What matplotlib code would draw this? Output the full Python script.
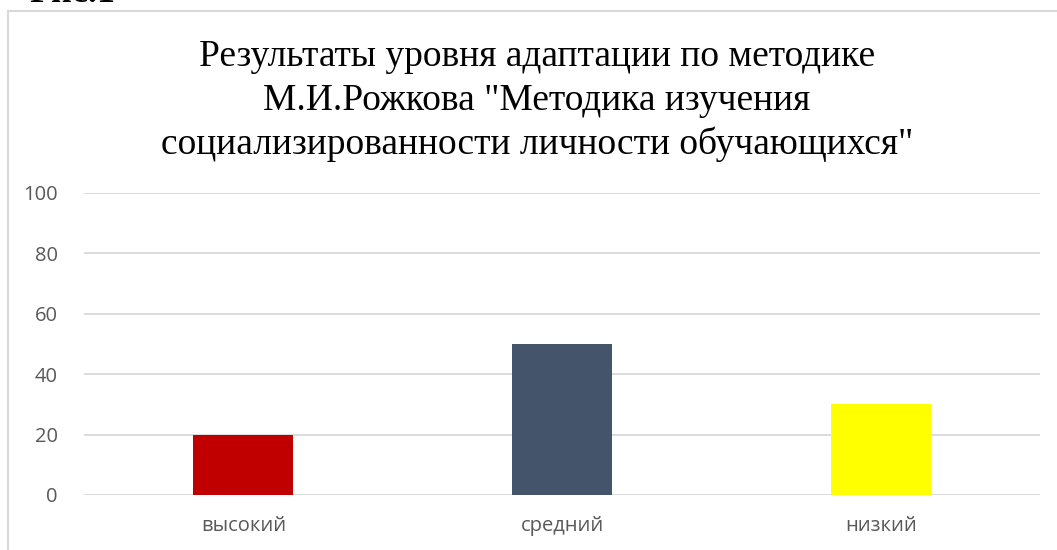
import matplotlib
matplotlib.use("Agg")
import matplotlib.pyplot as plt
from matplotlib.lines import Line2D

# данные диаграммы
categories = ["высокий", "средний", "низкий"]
values = [20, 50, 30]
bar_colors = ["#C00000", "#44546A", "#FFFF00"]
yticks = [0, 20, 40, 60, 80, 100]

title = ('Результаты уровня адаптации по методике\n'
         'М.И.Рожкова "Методика изучения\n'
         'социализированности личности обучающихся"')

W, H = 1057, 550
fig = plt.figure(figsize=(W / 100, H / 100), dpi=100)
fig.patch.set_facecolor("white")

ax = fig.add_axes([84 / W, (H - 495) / H, (1040 - 84) / W, (495 - 193) / H])
x = range(len(categories))
ax.bar(x, values, width=0.314, color=bar_colors, zorder=3)
ax.set_xlim(-0.5, len(categories) - 0.5)
ax.set_ylim(0, 100)
ax.set_yticks(yticks)
ax.set_xticks(list(x))
ax.set_xticklabels(categories)
ax.grid(axis="y", color="#D9D9D9", linewidth=1.3, zorder=0)
ax.set_axisbelow(True)
for s in ax.spines.values():
    s.set_visible(False)
ax.tick_params(axis="both", length=0, colors="#595959", labelsize=14.5)
ax.tick_params(axis="y", pad=19)
ax.tick_params(axis="x", pad=15)
for lab in ax.get_xticklabels() + ax.get_yticklabels():
    lab.set_fontfamily("Open Sans")

# заголовок
fig.text(537 / W, 1 - 40 / H, title, ha="center", va="top",
         fontsize=27, family="Liberation Serif", linespacing=1.33)

# рамка диаграммы (левая и верхняя линии)
fig.add_artist(Line2D([8 / W, 8 / W], [0, 1 - 11 / H], transform=fig.transFigure,
                      color="#D9D9D9", linewidth=1.5))
fig.add_artist(Line2D([8 / W, 1], [1 - 11 / H, 1 - 11 / H], transform=fig.transFigure,
                      color="#D9D9D9", linewidth=1.5))

# подпись рисунка, обрезанная сверху
fig.text(29 / W, 1 - 2.5 / H, "Рис.1", ha="left", va="baseline",
         fontsize=26, fontweight="bold", family="Liberation Serif")

fig.savefig("out.png", dpi=100, facecolor="white")
